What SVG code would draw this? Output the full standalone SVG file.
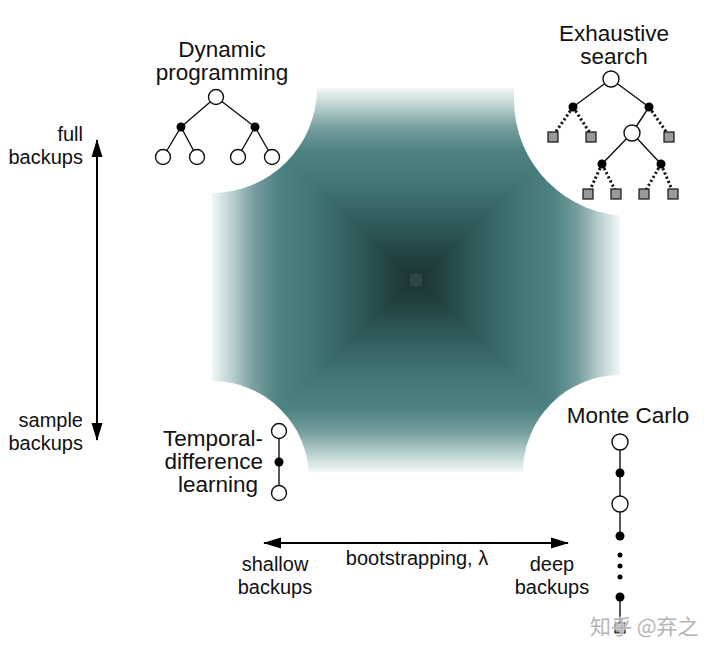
<svg xmlns="http://www.w3.org/2000/svg" width="720" height="652" viewBox="0 0 720 652">
<defs>
<linearGradient id="gv" gradientUnits="userSpaceOnUse" x1="0" y1="88" x2="0" y2="472">
<stop offset="0" stop-color="#f2f7f7"/>
<stop offset="0.05" stop-color="#b8cfcf"/>
<stop offset="0.1" stop-color="#7aa0a0"/>
<stop offset="0.16" stop-color="#4f8383"/>
<stop offset="0.25" stop-color="#427575"/>
<stop offset="0.35" stop-color="#305c5c"/>
<stop offset="0.44" stop-color="#234141"/>
<stop offset="0.5" stop-color="#1b3333"/>
<stop offset="0.56" stop-color="#234141"/>
<stop offset="0.65" stop-color="#305c5c"/>
<stop offset="0.75" stop-color="#427575"/>
<stop offset="0.84" stop-color="#4f8383"/>
<stop offset="0.9" stop-color="#7aa0a0"/>
<stop offset="0.95" stop-color="#b8cfcf"/>
<stop offset="1" stop-color="#f2f7f7"/>
</linearGradient>
<linearGradient id="gh" gradientUnits="userSpaceOnUse" x1="212" y1="0" x2="620" y2="0">
<stop offset="0" stop-color="#f2f7f7"/>
<stop offset="0.05" stop-color="#b8cfcf"/>
<stop offset="0.1" stop-color="#7aa0a0"/>
<stop offset="0.16" stop-color="#4f8383"/>
<stop offset="0.25" stop-color="#427575"/>
<stop offset="0.35" stop-color="#305c5c"/>
<stop offset="0.44" stop-color="#234141"/>
<stop offset="0.5" stop-color="#1b3333"/>
<stop offset="0.56" stop-color="#234141"/>
<stop offset="0.65" stop-color="#305c5c"/>
<stop offset="0.75" stop-color="#427575"/>
<stop offset="0.84" stop-color="#4f8383"/>
<stop offset="0.9" stop-color="#7aa0a0"/>
<stop offset="0.95" stop-color="#b8cfcf"/>
<stop offset="1" stop-color="#f2f7f7"/>
</linearGradient>
<marker id="ah" viewBox="0 0 18 12" refX="17" refY="6" markerWidth="18" markerHeight="12" markerUnits="userSpaceOnUse" orient="auto-start-reverse">
<path d="M0,0.5 L18,6 L0,11.5 z" fill="#000"/>
</marker>
</defs>
<style>
text{font-family:"Liberation Sans",Arial,sans-serif;fill:#111}
.big{font-size:22.5px}
.sm{font-size:20px}
.o{fill:#fff;stroke:#111;stroke-width:1.4}
.b{fill:#000}
.ln{stroke:#111;stroke-width:1.4;fill:none}
.dt{stroke:#111;stroke-width:3;stroke-dasharray:2.2 2.4;fill:none}
.sq{fill:#999;stroke:#111;stroke-width:1.2}
.ar{stroke:#000;stroke-width:2;fill:none}
</style>
<rect width="720" height="652" fill="#fff"/>
<g id="field">
<rect x="212" y="88" width="408" height="384" fill="url(#gv)"/>
<polygon points="212,88 416,280 212,472" fill="url(#gh)"/>
<polygon points="620,88 416,280 620,472" fill="url(#gh)"/>
<rect x="410" y="274" width="12" height="12" fill="#2a4646"/>
<circle cx="212" cy="88" r="105" fill="#fff"/>
<circle cx="630" cy="100" r="116" fill="#fff"/>
<circle cx="212" cy="478" r="97" fill="#fff"/>
<circle cx="620" cy="472" r="97" fill="#fff"/>
</g>
<g id="connectors">
<line class="ar" x1="97" y1="140" x2="97" y2="440" marker-start="url(#ah)" marker-end="url(#ah)"/>
<line class="ar" x1="264" y1="543" x2="568" y2="543" marker-start="url(#ah)" marker-end="url(#ah)"/>
</g>
<g id="axis-vertical">
<text class="sm" x="83" y="141" text-anchor="end">full</text>
<text class="sm" x="83" y="164" text-anchor="end">backups</text>
<text class="sm" x="83" y="427" text-anchor="end">sample</text>
<text class="sm" x="83" y="450" text-anchor="end">backups</text>
</g>
<g id="axis-horizontal">
<text class="sm" x="275" y="571" text-anchor="middle">shallow</text>
<text class="sm" x="275" y="594" text-anchor="middle">backups</text>
<text class="sm" x="417" y="565" text-anchor="middle">bootstrapping, λ</text>
<text class="sm" x="552" y="571" text-anchor="middle">deep</text>
<text class="sm" x="552" y="594" text-anchor="middle">backups</text>
</g>
<g id="dynamic-programming">
<text class="big" x="222" y="57" text-anchor="middle">Dynamic</text>
<text class="big" x="222" y="80" text-anchor="middle">programming</text>
<path class="ln" d="M216,97 L181,127 M216,97 L255,127 M181,127 L163,157 M181,127 L197,157 M255,127 L238,157 M255,127 L272,157"/>
<circle class="o" cx="216" cy="97" r="7.5"/>
<circle class="b" cx="181" cy="127" r="4.5"/>
<circle class="b" cx="255" cy="127" r="4.5"/>
<circle class="o" cx="163" cy="157" r="7.5"/>
<circle class="o" cx="197" cy="157" r="7.5"/>
<circle class="o" cx="238" cy="157" r="7.5"/>
<circle class="o" cx="272" cy="157" r="7.5"/>
</g>
<g id="exhaustive-search">
<text class="big" x="614" y="41" text-anchor="middle">Exhaustive</text>
<text class="big" x="614" y="64" text-anchor="middle">search</text>
<path class="ln" d="M611,79 L573,107 M611,79 L649,107 M649,107 L632,133 M632,133 L602,164 M632,133 L661,164"/>
<path class="dt" d="M573,107 L555,133 M573,107 L590,133 M649,107 L667,133 M602,164 L590,190 M602,164 L615,190 M661,164 L646,190 M661,164 L672,190"/>
<circle class="o" cx="611" cy="79" r="8"/>
<circle class="b" cx="573" cy="107" r="4.5"/>
<circle class="b" cx="649" cy="107" r="4.5"/>
<rect class="sq" x="548" y="132" width="10" height="10"/>
<rect class="sq" x="586" y="132" width="10" height="10"/>
<rect class="sq" x="664" y="132" width="10" height="10"/>
<circle class="o" cx="632" cy="133" r="8"/>
<circle class="b" cx="602" cy="164" r="4.5"/>
<circle class="b" cx="661" cy="164" r="4.5"/>
<rect class="sq" x="583" y="189" width="10" height="10"/>
<rect class="sq" x="611" y="189" width="10" height="10"/>
<rect class="sq" x="639" y="189" width="10" height="10"/>
<rect class="sq" x="668" y="189" width="10" height="10"/>
</g>
<g id="temporal-difference">
<text class="big" x="263" y="446" text-anchor="end">Temporal-</text>
<text class="big" x="263" y="469" text-anchor="end">difference</text>
<text class="big" x="258" y="492" text-anchor="end">learning</text>
<path class="ln" d="M279,431 L279,493"/>
<circle class="o" cx="279" cy="431" r="7.5"/>
<circle class="b" cx="279" cy="462" r="4.5"/>
<circle class="o" cx="279" cy="493" r="7.5"/>
</g>
<g id="monte-carlo">
<text class="big" x="628" y="423" text-anchor="middle">Monte Carlo</text>
<path class="ln" d="M620,442 L620,536 M620,597 L620,625"/>
<circle class="o" cx="620" cy="442" r="8"/>
<circle class="b" cx="620" cy="473" r="4.5"/>
<circle class="o" cx="620" cy="504" r="8"/>
<circle class="b" cx="620" cy="536" r="4.5"/>
<circle class="b" cx="620" cy="555" r="2.5"/>
<circle class="b" cx="620" cy="566" r="2.5"/>
<circle class="b" cx="620" cy="577" r="2.5"/>
<circle class="b" cx="620" cy="597" r="4.5"/>
<rect class="sq" x="615" y="623" width="10" height="10"/>
</g>
<g id="watermark">
<text x="590" y="634" style="font-family:'Noto Sans CJK SC',sans-serif;font-size:21px;fill:#ffffff;fill-opacity:0.75;stroke:#ffffff;stroke-width:3;stroke-opacity:0.5">知乎 @弃之</text>
<text x="590" y="634" style="font-family:'Noto Sans CJK SC',sans-serif;font-size:21px;fill:#b5b5b5">知乎 @弃之</text>
</g>
</svg>
